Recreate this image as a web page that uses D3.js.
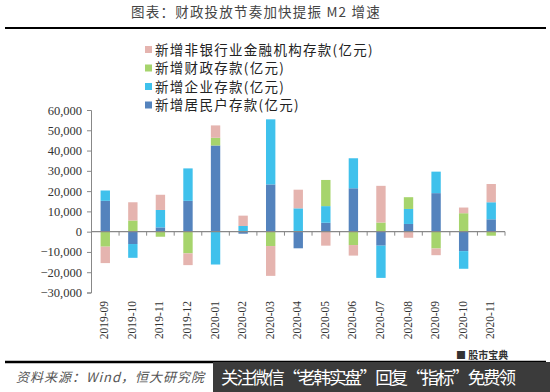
<!DOCTYPE html>
<html>
<head>
<meta charset="utf-8">
<script src="https://cdn.jsdelivr.net/npm/d3@7"></script>
<style>
  body { margin: 0; background: #fff; }
  svg { display: block; }
</style>
</head>
<body>
<div class="canvas"></div>
<script>
// podaci (亿元)
const months = ['2019-09', '2019-10', '2019-11', '2019-12', '2020-01', '2020-02', '2020-03', '2020-04',
	'2020-05', '2020-06', '2020-07', '2020-08', '2020-09', '2020-10', '2020-11'];
const household = [15200, -6100, 2100, 15200, 42500, -1000, 23300, -8200, 4400, 21400, -6900, 3800, 19000, -9600, 6100];
const enterprise = [5100, -6800, 8600, 16000, -16200, 2800, 32100, 11500, 8200, 14800, -15900, 7400, 10600, -8700, 8400];
const fiscal = [-7400, 5500, -2500, -10700, 3800, 0, -7100, 0, 12900, -6600, 4500, 5800, -8300, 9100, -2000];
const nonbank = [-8100, 9000, 7500, -5800, 6100, 5100, -14700, 9200, -6900, -5200, 18100, -3000, -3300, 2800, 9000];
const yTicks = [-30000, -20000, -10000, 0, 10000, 20000, 30000, 40000, 50000, 60000];

const seriesNames = {
	household: '新增居民户存款(亿元)',
	enterprise: '新增企业存款(亿元)',
	fiscal: '新增财政存款(亿元)',
	nonbank: '新增非银行业金融机构存款(亿元)'
};
const keys = ['household', 'enterprise', 'fiscal', 'nonbank'];
const colour = d3.scaleOrdinal()
	.domain(keys)
	.range(['#5483bd', '#3fc1ec', '#a6d46c', '#e5b4af']);

const rows = months.map((m, i) => ({
	month: m,
	household: household[i],
	enterprise: enterprise[i],
	fiscal: fiscal[i],
	nonbank: nonbank[i]
}));

const svg = d3.select('.canvas')
	.append('svg')
	.attr('width', 550)
	.attr('height', 392);

// naslov
svg.append('text')
	.attr('x', 256)
	.attr('y', 17)
	.attr('text-anchor', 'middle')
	.attr('font-family', 'Noto Sans CJK SC')
	.attr('font-size', 13.5)
	.attr('letter-spacing', 1.2)
	.attr('fill', '#444')
	.text('图表：财政投放节奏加快提振 M2 增速');

svg.append('line')
	.attr('x1', 5).attr('x2', 546)
	.attr('y1', 28).attr('y2', 28)
	.attr('stroke', '#000')
	.attr('stroke-width', 2.2);

// skale
const x = d3.scaleBand()
	.domain(months)
	.range([91.5, 505])
	.paddingInner(0.66)
	.paddingOuter(0.33);

const y = d3.scaleLinear()
	.domain([-30000, 60000])
	.range([292.5, 110]);

const stacked = d3.stack()
	.keys(keys)
	.offset(d3.stackOffsetDiverging)(rows);

const diagram = svg.append('g');

diagram.selectAll('g.series')
	.data(stacked)
	.enter()
	.append('g')
	.attr('class', 'series')
	.attr('fill', d => colour(d.key))
	.selectAll('rect')
	.data(d => d)
	.enter()
	.append('rect')
	.attr('x', d => x(d.data.month))
	.attr('width', x.bandwidth())
	.attr('y', d => y(Math.max(d[0], d[1])))
	.attr('height', d => Math.abs(y(d[0]) - y(d[1])));

// y os
const yAxis = d3.axisLeft(y)
	.tickValues(yTicks)
	.tickSize(4)
	.tickPadding(5)
	.tickFormat(d3.format(','));

const yAxisGroup = svg.append('g')
	.attr('transform', 'translate(91, 0)')
	.call(yAxis);
yAxisGroup.select('.domain').attr('stroke', '#888');
yAxisGroup.selectAll('.tick line').attr('stroke', '#888');
yAxisGroup.selectAll('text')
	.attr('font-family', 'Liberation Serif')
	.attr('font-size', 12.5)
	.attr('fill', '#333');

// x os (kvacice izmedu kategorija)
const step = x.step();
const x0 = x.range()[0];
const xAxisGroup = svg.append('g')
	.attr('transform', `translate(0, ${y(0)})`);
xAxisGroup.append('line')
	.attr('x1', x0).attr('x2', 505)
	.attr('stroke', '#888')
	.attr('stroke-width', 1.2);
xAxisGroup.selectAll('line.tk')
	.data(months)
	.enter()
	.append('line')
	.attr('class', 'tk')
	.attr('x1', (d, i) => x0 + step * (i + 1))
	.attr('x2', (d, i) => x0 + step * (i + 1))
	.attr('y1', 0).attr('y2', 4)
	.attr('stroke', '#888');

svg.append('g')
	.selectAll('text')
	.data(months)
	.enter()
	.append('text')
	.attr('transform', d => `translate(${x(d) + x.bandwidth() / 2 - 1}, 301) rotate(-90)`)
	.attr('text-anchor', 'end')
	.attr('dy', '0.35em')
	.attr('font-family', 'Liberation Serif')
	.attr('font-size', 11.5)
	.attr('fill', '#333')
	.text(d => d);

// legenda
const legendKeys = keys.slice().reverse();
const legend = svg.append('g')
	.attr('transform', 'translate(145, 50)');
const item = legend.selectAll('g')
	.data(legendKeys)
	.enter()
	.append('g')
	.attr('transform', (d, i) => `translate(0, ${i * 18.5})`);
item.append('rect')
	.attr('x', 0).attr('y', -4)
	.attr('width', 7).attr('height', 7)
	.attr('fill', d => colour(d));
item.append('text')
	.attr('x', 10)
	.attr('dy', '0.35em')
	.attr('font-family', 'Noto Sans CJK SC')
	.attr('font-size', 13.5)
	.attr('letter-spacing', 1.3)
	.attr('fill', '#222')
	.text(d => seriesNames[d]);

// podnozje
svg.append('line')
	.attr('x1', 5).attr('x2', 546)
	.attr('y1', 362).attr('y2', 362)
	.attr('stroke', '#000')
	.attr('stroke-width', 2.5);

svg.append('text')
	.attr('x', 456).attr('y', 359)
	.attr('font-family', 'Noto Sans CJK SC')
	.attr('font-size', 10)
	.attr('font-weight', 'bold')
	.attr('fill', '#333')
	.text('■ 股市宝典');

svg.append('text')
	.attr('x', 16).attr('y', 382)
	.attr('font-family', 'Noto Sans CJK SC')
	.attr('font-style', 'italic')
	.attr('font-size', 13)
	.attr('letter-spacing', 1)
	.attr('fill', '#555')
	.text('资料来源：Wind，恒大研究院');

svg.append('rect')
	.attr('x', 213).attr('y', 362)
	.attr('width', 337).attr('height', 30)
	.attr('fill', '#3b3b3b');

svg.append('text')
	.attr('x', 221).attr('y', 384)
	.attr('font-family', 'Noto Sans CJK SC')
	.attr('font-size', 17.5)
	.attr('textLength', 295)
	.attr('fill', '#fff')
	.text('关注微信“老韩实盘”回复“指标”免费领');
</script>
</body>
</html>
